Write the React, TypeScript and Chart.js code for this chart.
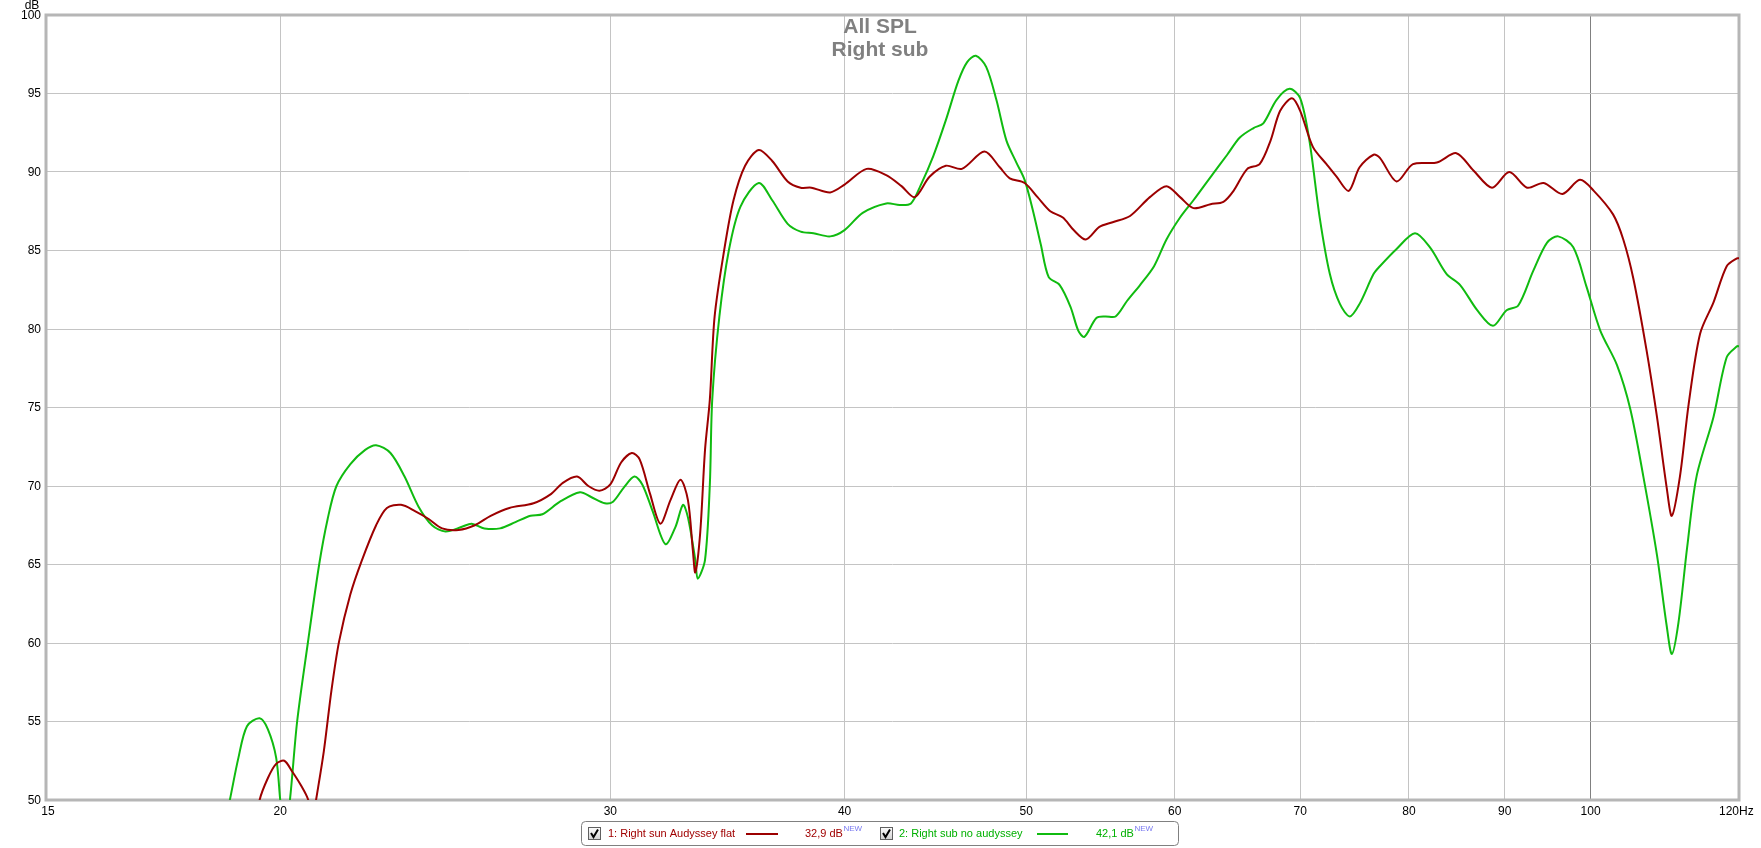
import React, { useEffect, useRef } from "react";
import { Chart, registerables } from "chart.js";

Chart.register(...registerables);

const titleLines = ["All SPL", "Right sub"];

const xTickValues = [15, 20, 30, 40, 50, 60, 70, 80, 90, 100, 120];
const xTickLabels = ["15", "20", "30", "40", "50", "60", "70", "80", "90", "100", "120Hz"];
const yTickValues = [50, 55, 60, 65, 70, 75, 80, 85, 90, 95, 100];

const redLabel = "1: Right sun Audyssey flat";
const redValueText = "32,9 dB";
const greenLabel = "2: Right sub no audyssey";
const greenValueText = "42,1 dB";

const redFreq = [
  19.3, 19.5, 19.7, 19.9, 20.1, 20.3, 20.5, 20.7, 20.8, 20.9, 21.1, 21.3, 21.5, 21.8, 22.1, 22.5,
  22.8, 23.2, 23.6, 24.0, 24.4, 24.9, 25.4, 25.9, 26.5, 27.3, 27.9, 28.3, 28.8, 29.2, 29.6, 30.0,
  30.4, 30.8, 31.1, 31.5, 31.9, 32.3, 32.7, 33.0, 33.2, 33.3, 33.5, 33.7, 33.9, 34.1, 34.5, 34.9,
  35.4, 36.0, 36.6, 37.3, 37.9, 38.4, 39.3, 40.0, 41.1, 42.1, 42.9, 43.6, 44.4, 45.3, 46.2, 47.5,
  48.4, 49.0, 49.9, 50.7, 51.5, 52.3, 53.0, 53.8, 54.7, 55.6, 56.8, 58.2, 59.4, 60.4, 61.4, 62.7,
  63.7, 64.5, 65.6, 66.6, 67.5, 68.3, 69.3, 70.0, 71.1, 72.3, 73.2, 74.3, 75.3, 76.6, 77.2, 78.8,
  80.4, 82.8, 84.8, 86.6, 88.6, 90.5, 92.5, 94.4, 96.6, 98.7, 100.4, 102.8, 104.1, 105.4, 107.1,
  108.5, 109.8, 110.5, 111.6, 112.8, 114.4, 116.3, 118.2, 119.7, 120,
];
const redDb = [
  47.0, 50.0, 51.4, 52.3, 52.5, 51.8, 51.0, 50.0, 48.5, 50.0, 53.1, 57.0, 60.1, 63.1, 65.2, 67.5,
  68.6, 68.8, 68.4, 67.9, 67.3, 67.2, 67.5, 68.1, 68.6, 68.9, 69.5, 70.2, 70.6, 70.0, 69.7, 70.1,
  71.5, 72.1, 71.7, 69.5, 67.6, 69.1, 70.4, 69.1, 65.9, 64.5, 67.0, 72.3, 75.5, 80.8, 85.0, 88.2,
  90.4, 91.4, 90.7, 89.4, 89.0, 89.0, 88.7, 89.2, 90.2, 89.8, 89.1, 88.4, 89.7, 90.4, 90.2, 91.3,
  90.3, 89.6, 89.3, 88.4, 87.5, 87.1, 86.3, 85.7, 86.5, 86.8, 87.2, 88.4, 89.1, 88.4, 87.7, 87.95,
  88.1, 88.8, 90.2, 90.5, 92.0, 93.9, 94.7, 93.9, 91.6, 90.5, 89.7, 88.8, 90.3, 91.1, 90.9, 89.4,
  90.5, 90.6, 91.2, 90.1, 89.0, 90.0, 89.0, 89.3, 88.6, 89.5, 88.8, 87.3, 85.7, 83.2, 78.7,
  74.4, 69.9, 68.1, 70.6, 75.2, 79.7, 81.7, 84.0, 84.5, 84.5,
];

const greenFreq = [
  18.5, 18.8, 19.0, 19.2, 19.5, 19.7, 19.9, 20.0, 20.1, 20.24, 20.42, 20.69, 20.98, 21.2, 21.43,
  21.8, 22.2, 22.5, 22.9, 23.3, 23.7, 24.1, 24.5, 25.0, 25.3, 25.7, 26.2, 26.7, 27.2, 27.6, 28.2,
  28.9, 29.3, 29.8, 30.1, 30.5, 30.9, 31.2, 31.6, 32.1, 32.5, 32.8, 33.0, 33.3, 33.4, 33.7, 33.9,
  34.0, 34.3, 34.7, 35.2, 36.0, 36.6, 37.3, 37.9, 38.5, 39.3, 40.0, 40.9, 42.1, 42.8, 43.4, 43.9,
  44.6, 45.3, 46.0, 46.5, 47.0, 47.6, 48.2, 48.8, 49.4, 49.9, 50.4, 50.9, 51.4, 52.1, 52.8, 53.3,
  53.7, 54.5, 55.1, 55.8, 56.6, 57.5, 58.5, 59.4, 60.4, 61.4, 62.9, 64.0, 65.0, 66.1, 66.9, 68.0,
  69.1, 70.0, 70.8, 71.7, 72.6, 73.5, 74.4, 75.3, 76.6, 77.2, 78.8, 80.6, 82.1, 83.8, 85.2, 87.0,
  88.7, 90.2, 91.5, 93.2, 94.8, 96.1, 97.9, 99.5, 101.2, 103.3, 105.0, 106.7, 108.5, 109.8, 110.5,
  111.4, 112.6, 113.9, 116.3, 118.2, 119.7, 120,
];
const greenDb = [
  46.0, 50.0, 52.7, 54.7, 55.2, 54.5, 52.7, 50.0, 47.5, 50.0, 55.0, 60.0, 65.0, 67.9, 70.0,
  71.4, 72.3, 72.6, 72.1, 70.6, 68.7, 67.5, 67.1, 67.4, 67.6, 67.3, 67.3, 67.7, 68.1, 68.2, 69.0,
  69.6, 69.3, 68.9, 69.0, 69.9, 70.6, 70.1, 68.4, 66.3, 67.4, 68.8, 68.0, 65.3, 64.1, 65.3, 70.1,
  75.5, 80.8, 85.0, 87.8, 89.3, 88.2, 86.7, 86.2, 86.1, 85.9, 86.3, 87.4, 88.0, 87.9, 88.0, 89.1,
  91.0, 93.3, 95.8, 97.0, 97.4, 96.7, 94.6, 92.0, 90.6, 89.5, 87.6, 85.4, 83.3, 82.8, 81.4, 79.9,
  79.5, 80.7, 80.8, 80.8, 81.8, 82.8, 84.0, 85.7, 87.1, 88.2, 89.9, 91.1, 92.2, 92.8, 93.1, 94.6,
  95.3, 94.7, 92.0, 87.1, 83.5, 81.6, 80.8, 81.6, 83.5, 84.0, 85.1, 86.1, 85.2, 83.5, 82.8, 81.2,
  80.2, 81.2, 81.5, 83.7, 85.5, 85.9, 85.2, 82.7, 79.9, 77.7, 74.9, 70.6, 65.6, 61.1, 59.3,
  61.3, 66.1, 70.6, 74.4, 78.2, 78.9, 78.9,
];

const RED = "#9c0000";
const GREEN = "#10bb10";
const FONT = '"Liberation Sans", Arial, sans-serif';

function toPoints(xs: number[], ys: number[]) {
  return xs.map((x, i) => ({ x, y: ys[i] }));
}

const decorPlugin = {
  id: "decor",
  beforeDatasetsDraw(chart: any) {
    const { ctx, chartArea } = chart;
    ctx.save();
    ctx.strokeStyle = "#b6b6b6";
    ctx.lineWidth = 3;
    ctx.strokeRect(chartArea.left, chartArea.top, chartArea.right - chartArea.left, chartArea.bottom - chartArea.top);
    ctx.restore();
  },
  afterDraw(chart: any) {
    const { ctx, chartArea } = chart;
    const xs = chart.scales.x;
    const ys = chart.scales.y;
    ctx.save();
    ctx.fillStyle = "#000";
    ctx.font = `12px ${FONT}`;
    ctx.textAlign = "right";
    ctx.textBaseline = "middle";
    yTickValues.forEach((v) => {
      ctx.fillText(String(v), chartArea.left - 5, ys.getPixelForValue(v) + 0.5);
    });
    ctx.textAlign = "center";
    ctx.fillText("dB", chartArea.left - 14, 6);
    xTickValues.forEach((v, i) => {
      const px = xs.getPixelForValue(v);
      const label = xTickLabels[i];
      if (i === xTickValues.length - 1) {
        ctx.textAlign = "left";
        ctx.fillText(label, px - 20, 812);
      } else {
        ctx.textAlign = "center";
        ctx.fillText(label, i === 0 ? px + 2 : px, 812);
      }
    });
    ctx.fillStyle = "#808080";
    ctx.font = `bold 21px ${FONT}`;
    ctx.textAlign = "center";
    ctx.textBaseline = "alphabetic";
    ctx.fillText(titleLines[0], 880, 33);
    ctx.fillText(titleLines[1], 880, 56);

    // legend
    const lx = 581.5, ly = 821.5, lw = 597, lh = 24, r = 4;
    ctx.beginPath();
    ctx.moveTo(lx + r, ly);
    ctx.lineTo(lx + lw - r, ly);
    ctx.arcTo(lx + lw, ly, lx + lw, ly + r, r);
    ctx.lineTo(lx + lw, ly + lh - r);
    ctx.arcTo(lx + lw, ly + lh, lx + lw - r, ly + lh, r);
    ctx.lineTo(lx + r, ly + lh);
    ctx.arcTo(lx, ly + lh, lx, ly + lh - r, r);
    ctx.lineTo(lx, ly + r);
    ctx.arcTo(lx, ly, lx + r, ly, r);
    ctx.closePath();
    ctx.fillStyle = "#fff";
    ctx.fill();
    ctx.strokeStyle = "#808080";
    ctx.lineWidth = 1;
    ctx.stroke();

    const items = [
      { cb: 588, text: chart.data.datasets[0].label, tx: 608, l0: 746, l1: 778, vx: 805, val: redValueText, color: RED, tc: "#a00000" },
      { cb: 880, text: chart.data.datasets[1].label, tx: 899, l0: 1037, l1: 1068, vx: 1096, val: greenValueText, color: GREEN, tc: "#00b000" },
    ];
    items.forEach((it) => {
      const grd = ctx.createLinearGradient(0, 827, 0, 840);
      grd.addColorStop(0, "#ffffff");
      grd.addColorStop(1, "#cfcfcf");
      ctx.fillStyle = grd;
      ctx.fillRect(it.cb + 0.5, 827.5, 12, 12);
      ctx.strokeStyle = "#606060";
      ctx.lineWidth = 1;
      ctx.strokeRect(it.cb + 0.5, 827.5, 12, 12);
      ctx.strokeStyle = "#000";
      ctx.lineWidth = 2;
      ctx.beginPath();
      ctx.moveTo(it.cb + 3, 833);
      ctx.lineTo(it.cb + 5.5, 837);
      ctx.lineTo(it.cb + 10, 829.5);
      ctx.stroke();
      ctx.lineWidth = 1;
      ctx.font = `11px ${FONT}`;
      ctx.textAlign = "left";
      ctx.textBaseline = "alphabetic";
      ctx.fillStyle = it.tc;
      ctx.fillText(it.text, it.tx, 837);
      ctx.strokeStyle = it.color;
      ctx.lineWidth = 2;
      ctx.beginPath();
      ctx.moveTo(it.l0, 834);
      ctx.lineTo(it.l1, 834);
      ctx.stroke();
      ctx.lineWidth = 1;
      ctx.fillText(it.val, it.vx, 837);
      const w = ctx.measureText(it.val).width;
      ctx.font = `8px ${FONT}`;
      ctx.fillStyle = "#7878f0";
      ctx.fillText("NEW", it.vx + w + 0.5, 831);
    });
    ctx.restore();
  },
};

export default function App() {
  const ref = useRef<HTMLCanvasElement | null>(null);
  useEffect(() => {
    if (!ref.current) return;
    const chart = new Chart(ref.current, {
      type: "line",
      data: {
        datasets: [
          {
            label: redLabel,
            data: toPoints(redFreq, redDb),
            borderColor: RED,
            borderWidth: 2,
            pointRadius: 0,
            tension: 0.3,
            fill: false,
          },
          {
            label: greenLabel,
            data: toPoints(greenFreq, greenDb),
            borderColor: GREEN,
            borderWidth: 2,
            pointRadius: 0,
            tension: 0.3,
            fill: false,
          },
        ],
      },
      options: {
        animation: false,
        responsive: false,
        devicePixelRatio: 1,
        layout: { padding: { left: 46, top: 15, right: 22, bottom: 48 } },
        plugins: { legend: { display: false }, tooltip: { enabled: false }, title: { display: false } },
        scales: {
          x: {
            type: "logarithmic",
            min: 15,
            max: 120,
            afterBuildTicks: (scale: any) => {
              scale.ticks = xTickValues.map((v) => ({ value: v }));
            },
            ticks: { display: false },
            border: { display: false },
            grid: {
              drawTicks: false,
              lineWidth: 1,
              color: (c: any) => {
                const v = c.tick && c.tick.value;
                if (v === 15 || v === 120) return "rgba(0,0,0,0)";
                if (v === 100) return "#808080";
                return "#c4c4c4";
              },
            },
          },
          y: {
            type: "linear",
            min: 50,
            max: 100,
            afterBuildTicks: (scale: any) => {
              scale.ticks = yTickValues.map((v) => ({ value: v }));
            },
            ticks: { display: false },
            border: { display: false },
            grid: {
              drawTicks: false,
              color: (c: any) => {
                const v = c.tick && c.tick.value;
                if (v === 50 || v === 100) return "rgba(0,0,0,0)";
                return "#c4c4c4";
              },
            },
          },
        },
      },
      plugins: [decorPlugin],
    } as any);
    return () => chart.destroy();
  }, []);
  return (
    <div style={{ position: "absolute", left: 0, top: 0, width: 1761, height: 848, background: "#fff" }}>
      <canvas ref={ref} width={1761} height={848} style={{ display: "block" }} />
    </div>
  );
}
